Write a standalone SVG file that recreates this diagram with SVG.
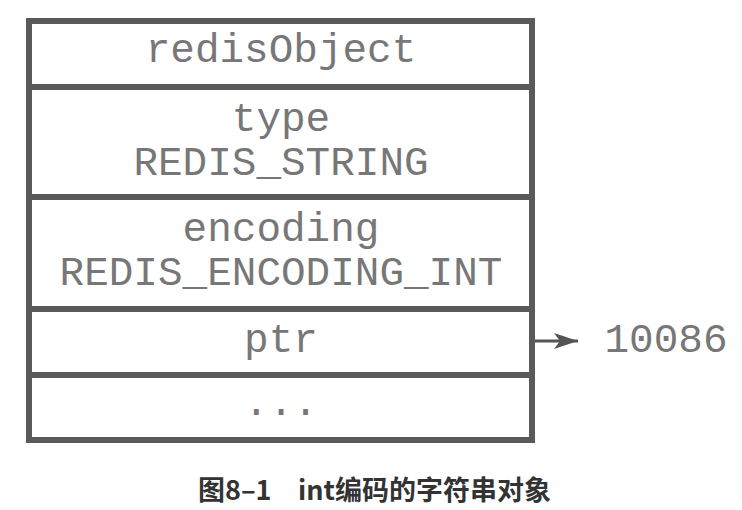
<svg xmlns="http://www.w3.org/2000/svg" width="742" height="510" viewBox="0 0 742 510">
<style>
.box{fill:#fff;stroke:#5a5a5a;stroke-width:6}
.div{stroke:#5a5a5a;stroke-width:6}
.t{font-family:"Liberation Mono","Courier New",monospace;font-size:41px;fill:#777;text-anchor:middle}
.cap{font-family:"Noto Sans CJK SC","Noto Sans",sans-serif;font-size:27px;font-weight:bold;fill:#333}
</style>
<defs>
<marker id="ah" markerWidth="24" markerHeight="18" refX="24" refY="9" orient="auto" markerUnits="userSpaceOnUse" viewBox="0 0 24 18">
<path d="M0,1 L24,9 L0,17 L6,9 Z" fill="#555"/>
</marker>
</defs>
<rect width="742" height="510" fill="#fff"/>
<g id="redisObject">
<rect class="box" x="29" y="21" width="503" height="419"/>
<text class="t" x="281" y="62">redisObject</text>
</g>
<g id="type">
<line class="div" x1="29" y1="87" x2="532" y2="87"/>
<text class="t" x="281" y="131">type</text>
<text class="t" x="281" y="175">REDIS_STRING</text>
</g>
<g id="encoding">
<line class="div" x1="29" y1="197" x2="532" y2="197"/>
<text class="t" x="281" y="241">encoding</text>
<text class="t" x="281" y="285">REDIS_ENCODING_INT</text>
</g>
<g id="ptr">
<line class="div" x1="29" y1="309" x2="532" y2="309"/>
<text class="t" x="281" y="352">ptr</text>
</g>
<g id="rest">
<line class="div" x1="29" y1="375" x2="532" y2="375"/>
<text class="t" x="281" y="415">...</text>
</g>
<g id="value">
<text class="t" x="666" y="352">10086</text>
</g>
<g id="connectors">
<line x1="535" y1="341" x2="578" y2="341" stroke="#555" stroke-width="3" marker-end="url(#ah)"/>
</g>
<g id="caption">
<text class="cap" x="198" y="500">图8–1</text>
<text class="cap" x="298" y="500">int编码的字符串对象</text>
</g>
</svg>
